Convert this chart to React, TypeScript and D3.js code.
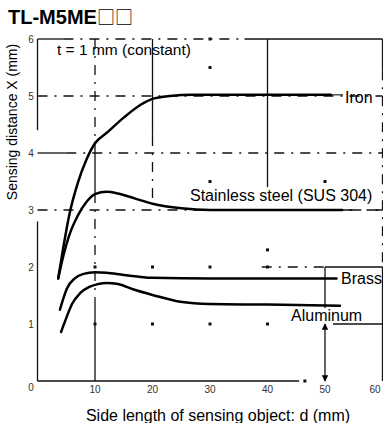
import React from 'react';
import * as d3 from 'd3';

// chart values
const xTicks = [0, 10, 20, 30, 40, 50, 60];
const yTicks = [0, 1, 2, 3, 4, 5, 6];

const ironX = [3.6, 4.5, 5.5, 7, 8.5, 10, 12, 15, 18, 20, 23, 27, 35, 45, 51];
const ironY = [1.8, 2.35, 2.9, 3.47, 3.88, 4.17, 4.35, 4.62, 4.85, 4.95, 5.0, 5.02, 5.02, 5.02, 5.02];

const susX = [3.6, 4.5, 5.5, 7, 8.5, 10, 12, 14, 17, 20, 25, 30, 40, 53];
const susY = [1.8, 2.2, 2.55, 2.9, 3.14, 3.28, 3.32, 3.29, 3.2, 3.11, 3.03, 3.0, 3.0, 3.0];

const brassX = [3.9, 4.5, 5.1, 6.5, 8, 10, 12, 15, 20, 30, 52];
const brassY = [1.25, 1.45, 1.62, 1.8, 1.88, 1.91, 1.9, 1.86, 1.81, 1.8, 1.8];

const aluX = [4.1, 5.1, 6, 7.4, 9, 10.5, 12, 14, 16.6, 20, 24.8, 30, 40, 52.6];
const aluY = [0.86, 1.13, 1.35, 1.54, 1.65, 1.7, 1.72, 1.7, 1.61, 1.51, 1.39, 1.35, 1.34, 1.32];

// broken grid lines of the scanned original, in data units
const gridSolid = [
  [0, 0, 0, 2.8], [0, 4.4, 0, 6], [0, 0, 45.5, 0],
  [0, 6, 4.5, 6], [36, 6, 60, 6],
  [60, 6, 60, 5.45], [60, 2.0, 60, 0],
  [10, 4.2, 10, 3.3], [10, 1.45, 10, 0],
  [20, 6, 20, 4.3], [40, 6, 40, 3.4],
  [50, 2.0, 50, 1.28],
  [0, 4, 5, 4], [51.4, 1, 60, 1], [50, 2, 60, 2],
];
const gridDashed = [
  [4.5, 6, 36, 6], [60, 5.45, 60, 2.0],
  [10, 6, 10, 4.2], [10, 3.3, 10, 1.45],
  [20, 4.3, 20, 3.1], [0, 5, 60, 5], [5, 4, 60, 4],
  [0, 3, 60, 3], [39, 2, 50, 2], [53, 3, 60, 3],
];
const gridDots = [
  [10, 1], [20, 1], [30, 1], [40, 1], [20, 2], [30, 2], [40, 2], [10, 2],
  [30, 5.5], [30, 3.5], [50, 3.5], [40, 2.3], [46.5, 0], [30, 6],
];

const labels = [
  { text: 'Iron', x: 345, y: 103 },
  { text: 'Stainless steel (SUS 304)', x: 190, y: 201 },
  { text: 'Brass', x: 341, y: 284 },
  { text: 'Aluminum', x: 291, y: 321 },
];

const W = 383;
const H = 423;

export default function App() {
  const x = d3.scaleLinear().domain([0, 60]).range([37.5, 382.5]);
  const y = d3.scaleLinear().domain([0, 6]).range([381, 39]);

  const makePath = (xs: number[], ys: number[]) =>
    d3
      .line<number>()
      .x((d) => x(d))
      .y((_, i) => y(ys[i]))
      .curve(d3.curveMonotoneX)(xs) || '';

  const series = [
    [ironX, ironY],
    [susX, susY],
    [brassX, brassY],
    [aluX, aluY],
  ];

  const font = 'Arial, "Liberation Sans", Helvetica, sans-serif';

  return (
    <svg
      width={W}
      height={H}
      style={{ position: 'absolute', left: 0, top: 0, background: '#fff' }}
      fontFamily={font}
    >
      <defs>
        <marker id="arr" viewBox="0 0 10 10" refX="9" refY="5" markerWidth="5" markerHeight="5" orient="auto-start-reverse">
          <path d="M0,0 L10,5 L0,10 z" fill="#000" />
        </marker>
      </defs>

      <text x={8} y={24} fontSize={20} fontWeight="bold" fill="#000">
        TL-M5ME
        <tspan fontFamily='"Noto Sans CJK JP", "Noto Sans CJK SC", sans-serif' fontWeight="normal" fontSize={18}>□□</tspan>
      </text>

      <g stroke="#111" strokeWidth={1.3} fill="none">
        {gridSolid.map((s, i) => (
          <line key={'s' + i} x1={x(s[0])} y1={y(s[1])} x2={x(s[2])} y2={y(s[3])} />
        ))}
        {gridDashed.map((s, i) => (
          <line key={'d' + i} x1={x(s[0])} y1={y(s[1])} x2={x(s[2])} y2={y(s[3])} strokeDasharray="10 7 2 7" />
        ))}
        <line x1={x(50)} y1={y(1)} x2={x(50)} y2={y(0)} markerStart="url(#arr)" markerEnd="url(#arr)" />
      </g>
      <g fill="#111">
        {gridDots.map((p, i) => (
          <rect key={i} x={x(p[0]) - 1.5} y={y(p[1]) - 1.5} width={3} height={3} />
        ))}
      </g>

      <g fill="none" stroke="#000" strokeWidth={2.5} strokeLinecap="round">
        {series.map((s, i) => (
          <path key={i} d={makePath(s[0], s[1])} />
        ))}
      </g>
      {/* thin leader from iron curve end to its label */}
      <line x1={x(51)} y1={y(5.02)} x2={343} y2={y(5.02)} stroke="#000" strokeWidth={1} />

      <g fontSize={16} fill="#000">
        {labels.map((l) => (
          <text key={l.text} x={l.x} y={l.y}>{l.text}</text>
        ))}
      </g>

      <text x={57} y={55} fontSize={15.5} fill="#000">t = 1 mm (constant)</text>

      <g fontSize={10} fill="#333">
        {yTicks.map((t) => (
          <text key={'y' + t} x={31} y={y(t) + (t === 0 ? 10 : 3.5)} textAnchor="middle">{t}</text>
        ))}
        {xTicks.filter((t) => t > 0).map((t) => (
          <text key={'x' + t} x={t === 60 ? 375 : x(t)} y={393} textAnchor="middle">{t}</text>
        ))}
      </g>

      <text
        transform={`translate(17, 122) rotate(-90)`}
        textAnchor="middle"
        fontSize={14}
        fill="#000"
      >
        Sensing distance X (mm)
      </text>
      <text x={218} y={421} textAnchor="middle" fontSize={16} fill="#000">
        Side length of sensing object: d (mm)
      </text>
    </svg>
  );
}
